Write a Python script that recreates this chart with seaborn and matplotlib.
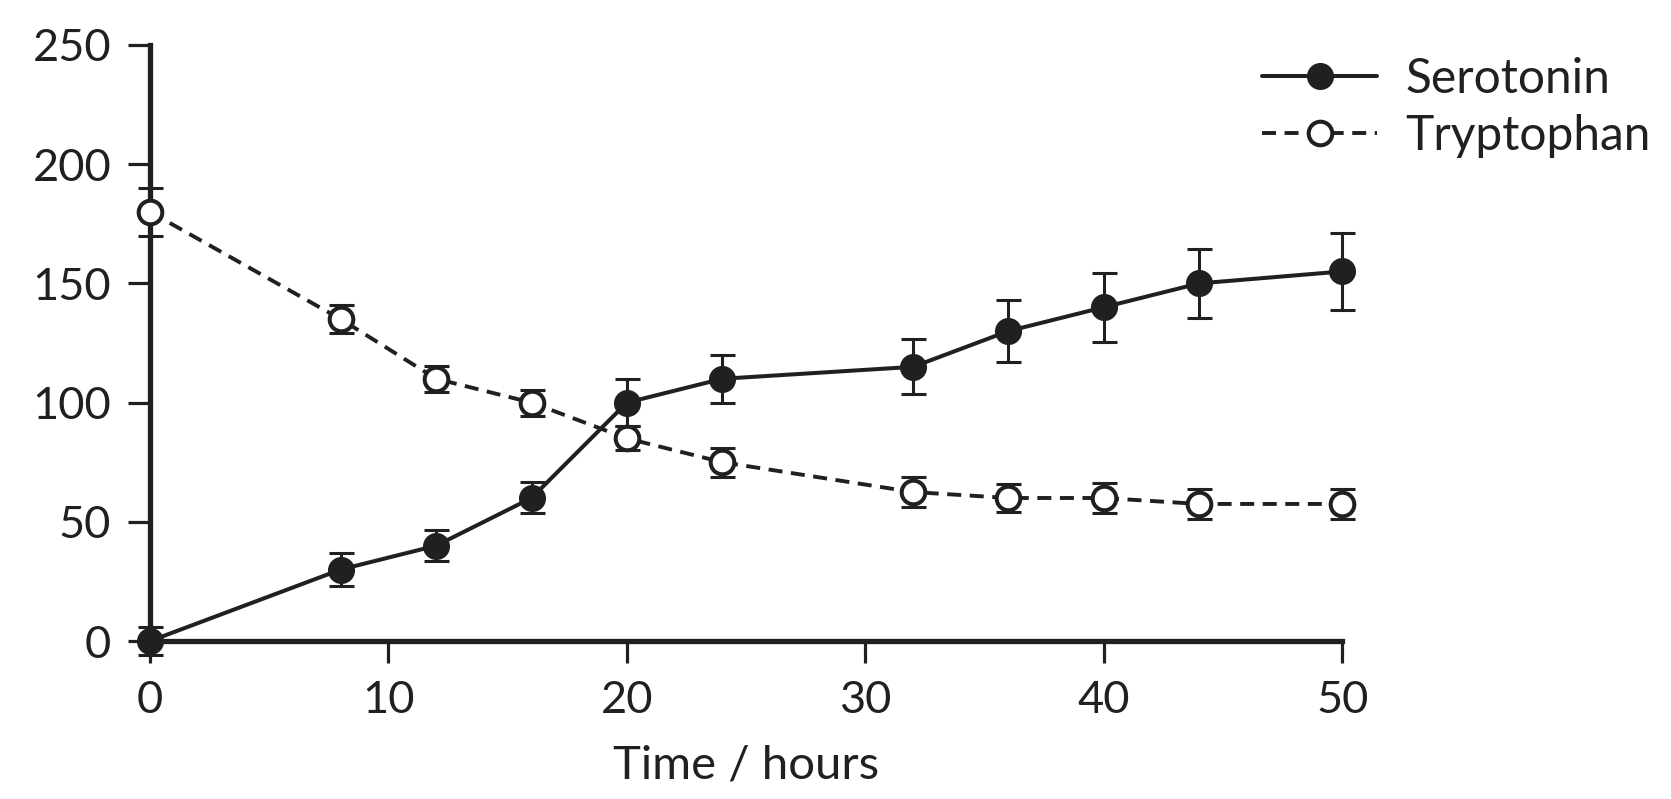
import numpy as np
import pandas as pd
import matplotlib
matplotlib.use("Agg")
import matplotlib.pyplot as plt
import seaborn as sns

# - Data -
time_h = [0, 8, 12, 16, 20, 24, 32, 36, 40, 44, 50]
serotonin = [0, 30, 40, 60, 100, 110, 115, 130, 140, 150, 155]
serotonin_err = [6, 7, 6.5, 6.5, 10, 10, 11.5, 13, 14.5, 14.5, 16]
tryptophan = [180, 135, 110, 100, 85, 75, 62.5, 60, 60, 57.5, 57.5]
tryptophan_err = [10, 6, 5.5, 5.5, 5, 6, 6.3, 6, 6.3, 6.3, 6.3]
x_ticks = [0, 10, 20, 30, 40, 50]
y_ticks = [0, 50, 100, 150, 200, 250]

ink = "#221f20"

sns.set_style("ticks")
plt.rcParams["font.family"] = ["Lato", "DejaVu Sans"]

df = pd.DataFrame({
    "Time": time_h + time_h,
    "Value": serotonin + tryptophan,
    "Compound": ["Serotonin"] * len(time_h) + ["Tryptophan"] * len(time_h),
})

fig = plt.figure(figsize=(16.71, 7.99), dpi=100)
ax = fig.add_axes([0.0898, 0.1977, 0.7134, 0.746])

# - Error bars -
ax.errorbar(time_h, tryptophan, yerr=tryptophan_err, fmt="none", ecolor=ink,
            elinewidth=2.2, capsize=9, capthick=2.2, zorder=3, clip_on=False)
ax.errorbar(time_h, serotonin, yerr=serotonin_err, fmt="none", ecolor=ink,
            elinewidth=2.2, capsize=9, capthick=2.2, zorder=5, clip_on=False)

# - Lines -
sns.lineplot(data=df[df.Compound == "Tryptophan"], x="Time", y="Value", ax=ax,
             color=ink, linewidth=2.8, linestyle=(0, (3.6, 2.2)), marker="o",
             markersize=17, markerfacecolor="white", markeredgecolor=ink,
             markeredgewidth=2.9, zorder=4, clip_on=False, label="Tryptophan")
sns.lineplot(data=df[df.Compound == "Serotonin"], x="Time", y="Value", ax=ax,
             color=ink, linewidth=2.9, marker="o", markersize=19.5,
             markerfacecolor=ink, markeredgecolor=ink, markeredgewidth=0,
             zorder=6, clip_on=False, label="Serotonin")

ax.set_xlim(0, 50)
ax.set_ylim(0, 250)
ax.set_xticks(x_ticks)
ax.set_yticks(y_ticks)
ax.set_xlabel("Time / hours", fontsize=34, color=ink, labelpad=17)
ax.set_ylabel("")
ax.tick_params(axis="both", labelsize=32.5, colors=ink, width=2.3, length=16, pad=12)
sns.despine(ax=ax)
for s in ["left", "bottom"]:
    ax.spines[s].set_linewidth(3.8)
    ax.spines[s].set_color(ink)
    ax.spines[s].set_zorder(2)

# - Legend -
handles, labels = ax.get_legend_handles_labels()
order = [labels.index("Serotonin"), labels.index("Tryptophan")]
leg = ax.legend([handles[i] for i in order], [labels[i] for i in order],
                loc="upper left", bbox_to_anchor=(1262 / 1671, 1 - 57 / 799),
                bbox_transform=fig.transFigure, frameon=False, fontsize=34.5,
                handlelength=2.4, handletextpad=0.6, labelspacing=0.27,
                borderaxespad=0, borderpad=0, labelcolor=ink)

fig.savefig("out.png", dpi=100)
